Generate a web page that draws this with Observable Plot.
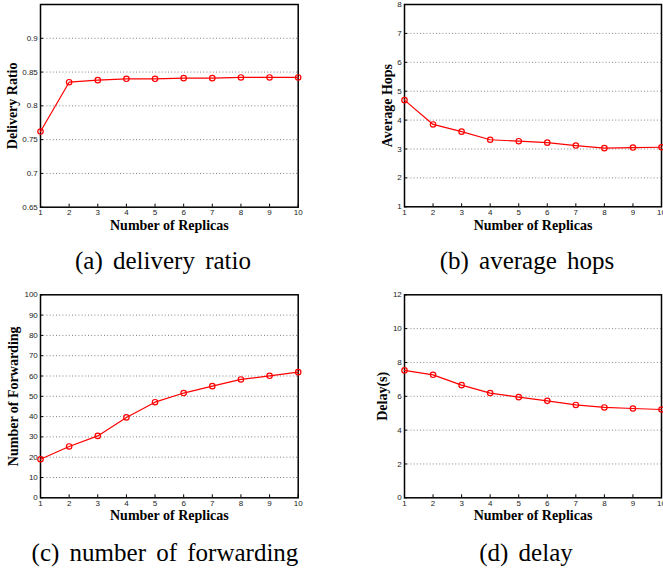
<!DOCTYPE html>
<html>
<head>
<meta charset="utf-8">
<script src="https://cdn.jsdelivr.net/npm/d3@7"></script>
<script src="https://cdn.jsdelivr.net/npm/@observablehq/plot@0.6"></script>
<style>
  html, body { margin: 0; padding: 0; background: white; width: 663px; height: 568px; overflow: hidden; }
  .panel { position: absolute; }
  .panel svg { max-width: none; overflow: visible; background: transparent; }
  .cap { position: absolute; width: 300px; text-align: center; font-family: "Liberation Serif", "Times New Roman", serif; font-size: 25px; line-height: 25px; word-spacing: 4px; color: #000; white-space: nowrap; }
</style>
</head>
<body>
<div id="pa" class="panel" style="left:0px;top:0px;"></div>
<div id="pb" class="panel" style="left:331px;top:0px;"></div>
<div id="pc" class="panel" style="left:0px;top:285px;"></div>
<div id="pd" class="panel" style="left:331px;top:285px;"></div>
<div class="cap" style="left:13px;top:248px;">(a) delivery ratio</div>
<div class="cap" style="left:377px;top:248px;">(b) average hops</div>
<div class="cap" style="left:15px;top:540px;">(c) number of forwarding</div>
<div class="cap" style="left:376px;top:540px;">(d) delay</div>
<script>
// ---- data ----
const replicas = [1, 2, 3, 4, 5, 6, 7, 8, 9, 10];
const deliveryRatio = [0.762, 0.835, 0.838, 0.840, 0.840, 0.841, 0.841, 0.842, 0.842, 0.842];
const averageHops = [4.69, 3.85, 3.60, 3.32, 3.27, 3.22, 3.12, 3.03, 3.05, 3.06];
const forwarding = [19.0, 25.3, 30.5, 39.6, 47.1, 51.6, 55.0, 58.3, 60.1, 61.9];
const delay = [7.53, 7.27, 6.66, 6.19, 5.95, 5.73, 5.49, 5.34, 5.28, 5.22];

const ratioTicks = [0.65, 0.7, 0.75, 0.8, 0.85, 0.9];
const hopsTicks = [1, 2, 3, 4, 5, 6, 7, 8];
const forwardTicks = [0, 10, 20, 30, 40, 50, 60, 70, 80, 90, 100];
const delayTicks = [0, 2, 4, 6, 8, 10, 12];

const xLabel = "Number of Replicas";

function panel(el, values, opts) {
  const data = replicas.map((r, i) => ({x: r, y: values[i]}));
  const [y0, y1] = opts.yDomain;
  const grid = opts.yTicks.filter(t => t > y0 + 1e-9 && t < y1 - 1e-9);
  const tickFont = "Liberation Sans, Arial, sans-serif";
  const serif = "Liberation Serif, Times New Roman, serif";
  const chart = Plot.plot({
    width: opts.width,
    height: 240,
    marginLeft: opts.ml,
    marginRight: opts.mr,
    marginTop: opts.mt,
    marginBottom: opts.mb,
    style: {background: "transparent", overflow: "visible"},
    x: {domain: [1, 10], axis: null},
    y: {domain: opts.yDomain, axis: null},
    marks: [
      Plot.gridY(grid, {stroke: "#666", strokeOpacity: 1, strokeWidth: 0.8, strokeDasharray: "1,2.2"}),
      Plot.axisX(replicas, {anchor: "bottom", label: null, tickSize: -3, tickPadding: 5.5, fontSize: 8, fontFamily: tickFont, fill: "#222", stroke: "#000"}),
      Plot.axisY(opts.yTicks, {anchor: "left", label: null, tickSize: -3, tickPadding: 5.7, fontSize: 8, fontFamily: tickFont, fill: "#222", stroke: "#000", tickFormat: d => String(+d.toFixed(2))}),
      Plot.frame({stroke: "#000", strokeWidth: 1.5}),
      Plot.line(data, {x: "x", y: "y", stroke: "#ff0000", strokeWidth: 1.2}),
      Plot.dot(data, {x: "x", y: "y", stroke: "#ff0000", fill: "none", r: 2.7, strokeWidth: 1.2}),
      Plot.text([xLabel], {text: d => d, frameAnchor: "bottom", dy: opts.xdy, lineAnchor: "middle", fontSize: 14, fontWeight: "bold", fontFamily: serif, fill: "#000"}),
      Plot.text([opts.yLabel], {text: d => d, frameAnchor: "left", rotate: -90, dx: opts.ydx, lineAnchor: "middle", textAnchor: "middle", fontSize: 14, fontWeight: "bold", fontFamily: serif, fill: "#000"})
    ]
  });
  document.getElementById(el).appendChild(chart);
}

panel("pa", deliveryRatio, {width: 331, ml: 40, mr: 33.3, mt: 4, mb: 33.3, yDomain: [0.65, 0.95], yTicks: ratioTicks, yLabel: "Delivery Ratio", ydx: -28, xdy: 18.6});
panel("pb", averageHops, {width: 332, ml: 73, mr: 2, mt: 4, mb: 33.7, yDomain: [1, 8], yTicks: hopsTicks, yLabel: "Average Hops", ydx: -17, xdy: 19});
panel("pc", forwarding, {width: 331, ml: 40, mr: 33.3, mt: 9.3, mb: 27.7, yDomain: [0, 100], yTicks: forwardTicks, yLabel: "Number of Forwarding", ydx: -26.5, xdy: 17.7});
panel("pd", delay, {width: 332, ml: 73, mr: 2, mt: 9.3, mb: 27.7, yDomain: [0, 12], yTicks: delayTicks, yLabel: "Delay(s)", ydx: -22, xdy: 17.7});
</script>
</body>
</html>
